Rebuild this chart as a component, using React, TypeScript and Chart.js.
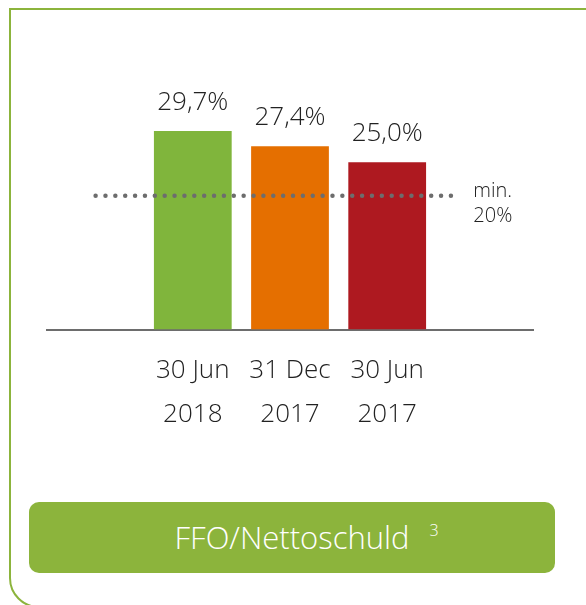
import React, { useEffect, useRef } from 'react';
import { Chart, registerables } from 'chart.js';

Chart.register(...registerables);

// ---- data ----
const periodDays = ['', '30 Jun', '31 Dec', '30 Jun', ''];
const periodYears = ['', '2018', '2017', '2017', ''];
const ratioValues: (number | null)[] = [null, 29.7, 27.4, 25.0, null];
const valueLabels = ['', '29,7%', '27,4%', '25,0%', ''];
const barColors = ['#80b53c', '#80b53c', '#e56f00', '#ae1920', '#ae1920'];
const minimumRatio = 20;
const minLineFrom = 0;
const minLineTo = 3.66;
const minLabelLines = ['min.', '20%'];
const bannerTitle = 'FFO/Nettoschuld';
const bannerNote = '3';

const FONT = '"Open Sans", "Noto Sans", sans-serif';
const GREEN = '#8cb43c';

const labelPlugin = {
  id: 'valueLabels',
  afterDatasetsDraw(chart: any) {
    const ctx = chart.ctx;
    const meta = chart.getDatasetMeta(1);
    ctx.save();
    ctx.fillStyle = '#222222';
    ctx.font = `300 26px ${FONT}`;
    ctx.textAlign = 'center';
    ctx.textBaseline = 'alphabetic';
    meta.data.forEach((bar: any, i: number) => {
      if (ratioValues[i] == null) return;
      ctx.fillText(valueLabels[i], bar.x, bar.y - 21);
    });
    const xs = chart.scales.x2;
    const ys = chart.scales.y;
    const lx = xs.getPixelForValue(minLineTo) + 22;
    const ly = ys.getPixelForValue(minimumRatio);
    ctx.font = `300 20px ${FONT}`;
    ctx.textAlign = 'left';
    ctx.fillText(minLabelLines[0], lx, ly + 1);
    ctx.fillText(minLabelLines[1], lx, ly + 26);
    ctx.restore();
  },
};

function ChartCanvas() {
  const ref = useRef<HTMLCanvasElement | null>(null);
  useEffect(() => {
    if (!ref.current) return;
    const labels = periodDays.map((d, i) => (d ? [d, periodYears[i]] : ''));
    const chart = new Chart(ref.current, {
      type: 'bar',
      data: {
        labels,
        datasets: [
          {
            type: 'line',
            xAxisID: 'x2',
            order: 0,
            data: [
              { x: minLineFrom, y: minimumRatio },
              { x: minLineTo, y: minimumRatio },
            ],
            borderColor: '#6d6d6d',
            borderWidth: 4.5,
            borderDash: [0, 9.87],
            borderCapStyle: 'round',
            pointRadius: 0,
            fill: false,
          } as any,
          {
            type: 'bar',
            order: 1,
            data: ratioValues,
            backgroundColor: barColors,
            barPercentage: 0.8,
            categoryPercentage: 1,
            grouped: false,
          } as any,
        ],
      },
      options: {
        responsive: false,
        animation: false,
        devicePixelRatio: 1,
        layout: { padding: { left: 47, right: 53, top: 62, bottom: 32 } },
        plugins: { legend: { display: false }, tooltip: { enabled: false } },
        scales: {
          x: {
            grid: { display: false },
            border: { display: true, color: '#6d6d6d', width: 2 },
            ticks: {
              color: '#222222',
              font: { family: FONT, size: 26, weight: '300' as any, lineHeight: 1.7 },
              padding: 11,
              maxRotation: 0,
              autoSkip: false,
            },
          },
          x2: {
            type: 'linear',
            display: false,
            offset: false,
            min: -0.5,
            max: 4.5,
          },
          y: {
            display: false,
            min: 0,
            max: 40,
          },
        },
      },
      plugins: [labelPlugin],
    });
    return () => chart.destroy();
  }, []);
  return (
    <canvas
      ref={ref}
      width={586}
      height={480}
      style={{ position: 'absolute', left: 0, top: 0, width: 586, height: 480 }}
    />
  );
}

export default function App() {
  return (
    <div
      style={{
        position: 'fixed',
        left: 0,
        top: 0,
        width: 586,
        height: 605,
        overflow: 'hidden',
        background: '#ffffff',
        fontFamily: FONT,
      }}
    >
      <div
        style={{
          position: 'absolute',
          left: 9,
          top: 8,
          width: 600,
          height: 600,
          boxSizing: 'border-box',
          border: `2.5px solid ${GREEN}`,
          borderRadius: '0 22px 0 30px',
        }}
      />
      <ChartCanvas />
      <div
        style={{
          position: 'absolute',
          left: 29,
          top: 502,
          width: 526,
          height: 71,
          background: GREEN,
          borderRadius: 10,
          color: '#ffffff',
          display: 'flex',
          alignItems: 'center',
          justifyContent: 'center',
          fontSize: 31,
          fontWeight: 300,
          boxSizing: 'border-box',
        }}
      >
        <span style={{ position: 'relative', lineHeight: 1 }}>
          {bannerTitle}
          <span
            style={{
              position: 'absolute',
              left: '100%',
              top: 0,
              marginLeft: 20,
              fontSize: 16,
              lineHeight: 1,
            }}
          >
            {bannerNote}
          </span>
        </span>
      </div>
    </div>
  );
}
